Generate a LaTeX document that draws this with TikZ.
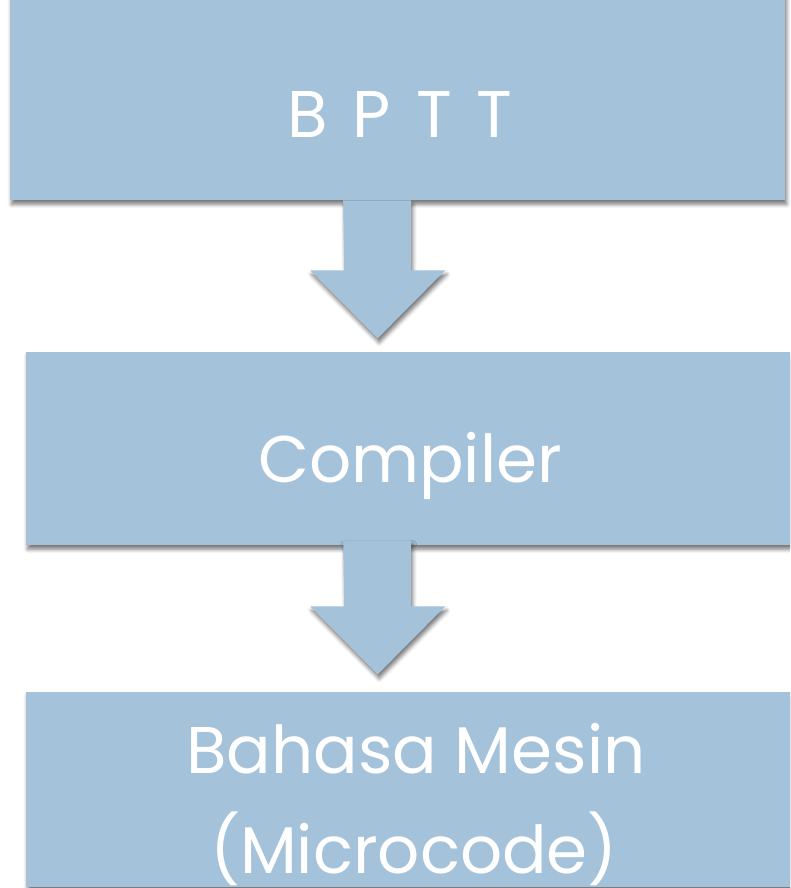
\documentclass[tikz,border=0pt]{standalone}
\usepackage{fontspec}
\setmainfont{Poppins}
\usetikzlibrary{shadows.blur,calc}
\definecolor{boxblue}{RGB}{165,194,219}
\tikzset{
  softshadow/.style={blur shadow={shadow xshift=1.5pt, shadow yshift=-4pt,
      shadow blur radius=4pt, shadow opacity=55}},
  stagebox/.style={fill=boxblue, draw=none, softshadow, inner sep=0pt,
      rectangle, anchor=north west},
  fatarrow/.style={fill=boxblue, draw=none, softshadow},
  stagetext/.style={text=white, font=\fontsize{66}{100}\selectfont,
      anchor=base, inner sep=0pt},
}
\newcommand{\lettergap}{\hspace{25pt}}
\begin{document}
\begin{tikzpicture}[x=1pt,y=-1pt]
  \useasboundingbox (0,0) rectangle (790,888);
  \clip (0,0) rectangle (790,888);

  % first stage
  \node[stagebox, minimum width=775pt, minimum height=212pt] (b1) at (10,-12) {};
  \node[stagetext] (t1) at (400,137) {B\lettergap P\lettergap T\lettergap T};

  % arrow from first to second stage
  \fill[fatarrow] ($(b1.south)+(-54.5,0)$) coordinate (a1s)
    -- ++(68,0) -- ++(0,70) -- ++(34,0) -- ++(-67.5,68) -- ++(-67.5,-68)
    -- ++(34,0) -- cycle;

  % second stage
  \node[stagebox, minimum width=770pt, minimum height=193pt] (b2) at (26,352) {};
  \node[stagetext] (t2) at (410,482) {Compiler};

  % arrow from second to third stage
  \fill[fatarrow] ($(b2.south)+(-68,-5)$) coordinate (a2s)
    -- ++(68,0) -- ++(0,66) -- ++(34,0) -- ++(-67.5,68) -- ++(-67.5,-68)
    -- ++(34,0) -- cycle;

  % third stage
  \node[stagebox, minimum width=770pt, minimum height=195pt] (b3) at (26,692) {};
  \node[stagetext] (t3a) at (416,773) {Bahasa Mesin};
  \node[stagetext] (t3b) at (414,873) {(Microcode)};
\end{tikzpicture}
\end{document}
